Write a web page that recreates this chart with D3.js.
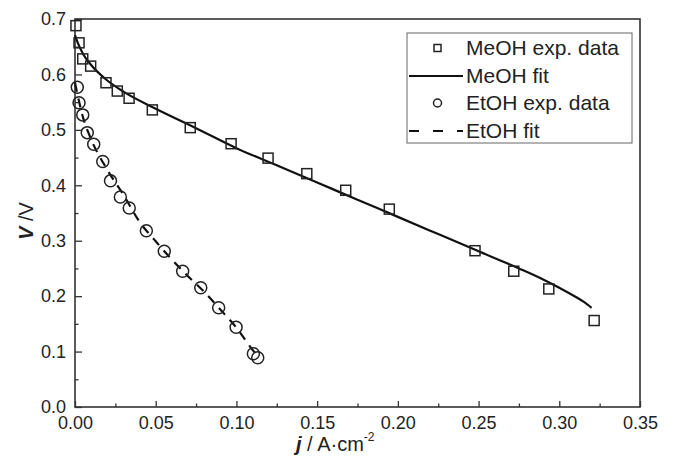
<!DOCTYPE html>
<html>
<head>
<meta charset="utf-8">
<script src="https://cdnjs.cloudflare.com/ajax/libs/d3/7.8.5/d3.min.js"></script>
<style>
  body { margin: 0; background: #fff; }
  svg { font-family: "Liberation Sans", Arial, sans-serif; }
</style>
</head>
<body>
<div id="chart"></div>
<script>
// MeOH experimental data
let meohJ = [0.0006, 0.0025, 0.0048, 0.0097, 0.0192, 0.0262, 0.0335, 0.0479, 0.0714, 0.0967, 0.1196, 0.1436, 0.1677, 0.1947, 0.2478, 0.2718, 0.2935, 0.3216];
let meohV = [0.688, 0.657, 0.628, 0.615, 0.585, 0.570, 0.557, 0.536, 0.504, 0.475, 0.449, 0.421, 0.391, 0.357, 0.282, 0.245, 0.213, 0.156];

// MeOH fit
let meohFitJ = [0, 0.002, 0.005, 0.01, 0.02, 0.03, 0.05, 0.075, 0.1, 0.125, 0.15, 0.175, 0.2, 0.225, 0.25, 0.275, 0.29, 0.30, 0.31, 0.315, 0.32];
let meohFitV = [0.671, 0.655, 0.637, 0.617, 0.589, 0.569, 0.538, 0.503, 0.467, 0.436, 0.405, 0.374, 0.343, 0.312, 0.281, 0.250, 0.230, 0.215, 0.199, 0.190, 0.179];

// EtOH experimental data
let etohJ = [0.0014, 0.0025, 0.0048, 0.0076, 0.0116, 0.0172, 0.0220, 0.0281, 0.0336, 0.0442, 0.0553, 0.0667, 0.0779, 0.0890, 0.0998, 0.1105, 0.1132];
let etohV = [0.577, 0.549, 0.527, 0.495, 0.474, 0.443, 0.408, 0.379, 0.359, 0.318, 0.281, 0.245, 0.215, 0.179, 0.144, 0.096, 0.089];

// EtOH fit
let etohFitJ = [0, 0.005, 0.01, 0.02, 0.03, 0.04, 0.05, 0.06, 0.07, 0.08, 0.09, 0.1, 0.11, 0.113];
let etohFitV = [0.585, 0.522, 0.483, 0.428, 0.383, 0.334, 0.299, 0.266, 0.236, 0.208, 0.176, 0.143, 0.103, 0.092];

let xTicks = [0, 0.05, 0.10, 0.15, 0.20, 0.25, 0.30, 0.35];
let yTicks = [0, 0.1, 0.2, 0.3, 0.4, 0.5, 0.6, 0.7];
let legendLabels = ["MeOH exp. data", "MeOH fit", "EtOH exp. data", "EtOH fit"];

let width = 675, height = 463;
let mLeft = 75, mRight = 640, mTop = 19, mBottom = 407;
let ink = "#222";

let svg = d3.select("#chart").append("svg")
  .attr("width", width)
  .attr("height", height);

let x = d3.scaleLinear().domain([0, 0.35]).range([mLeft, mRight]);
let y = d3.scaleLinear().domain([0, 0.7]).range([mBottom, mTop]);

function zip(a, b) {
  return a.map((d, i) => [d, b[i]]);
}

// minor ticks (inside)
let xMinor = d3.range(0.025, 0.35, 0.05);
let yMinor = d3.range(0.05, 0.7, 0.1);

svg.append("g")
  .attr("transform", "translate(0," + mBottom + ")")
  .call(d3.axisBottom(x).tickValues(xMinor).tickSize(-3.5).tickFormat(""))
  .call(g => g.select(".domain").remove());

svg.append("g")
  .attr("transform", "translate(" + mLeft + ",0)")
  .call(d3.axisLeft(y).tickValues(yMinor).tickSize(-3.5).tickFormat(""))
  .call(g => g.select(".domain").remove());

let xAxis = svg.append("g")
  .attr("transform", "translate(0," + mBottom + ")")
  .call(d3.axisBottom(x).tickValues(xTicks).tickSize(-6).tickPadding(9).tickFormat(d3.format(".2f")));

let yAxis = svg.append("g")
  .attr("transform", "translate(" + mLeft + ",0)")
  .call(d3.axisLeft(y).tickValues(yTicks).tickSize(-7).tickPadding(9).tickFormat(d3.format(".1f")));

[xAxis, yAxis].forEach(g => {
  g.select(".domain").remove();
  g.selectAll("text").attr("font-size", 18).attr("font-family", "Liberation Sans, Arial, sans-serif").attr("fill", ink);
});
svg.selectAll(".tick line").attr("stroke", "#333").attr("stroke-width", 1.3);

// frame
svg.append("rect")
  .attr("x", mLeft).attr("y", mTop)
  .attr("width", mRight - mLeft).attr("height", mBottom - mTop)
  .attr("fill", "none")
  .attr("stroke", "#333")
  .attr("stroke-width", 1.6);

let line = d3.line().x(d => x(d[0])).y(d => y(d[1])).curve(d3.curveMonotoneX);

svg.append("path")
  .datum(zip(meohFitJ, meohFitV))
  .attr("d", line)
  .attr("fill", "none")
  .attr("stroke", "#111")
  .attr("stroke-width", 2.2);

svg.append("path")
  .datum(zip(etohFitJ, etohFitV))
  .attr("d", line)
  .attr("fill", "none")
  .attr("stroke", "#111")
  .attr("stroke-width", 2.2)
  .attr("stroke-dasharray", "9,7");

svg.selectAll("rect.sq").data(zip(meohJ, meohV))
  .enter().append("rect").classed("sq", true)
  .attr("x", d => x(d[0]) - 5)
  .attr("y", d => y(d[1]) - 5)
  .attr("width", 10).attr("height", 10)
  .attr("fill", "none")
  .attr("stroke", ink)
  .attr("stroke-width", 1.5);

svg.selectAll("circle.dot").data(zip(etohJ, etohV))
  .enter().append("circle").classed("dot", true)
  .attr("cx", d => x(d[0]))
  .attr("cy", d => y(d[1]))
  .attr("r", 6)
  .attr("fill", "none")
  .attr("stroke", ink)
  .attr("stroke-width", 1.5);

// legend
let lg = svg.append("g");
lg.append("rect")
  .attr("x", 407).attr("y", 33)
  .attr("width", 225).attr("height", 110)
  .attr("fill", "#fff")
  .attr("stroke", "#666")
  .attr("stroke-width", 1);

let rowY = [48, 76, 103, 131];
legendLabels.forEach((label, i) => {
  lg.append("text")
    .attr("x", 466).attr("y", rowY[i] + 7)
    .attr("font-size", 21)
    .attr("fill", ink)
    .text(label);
});
lg.append("rect")
  .attr("x", 434).attr("y", rowY[0] - 3.5)
  .attr("width", 7).attr("height", 7)
  .attr("fill", "none").attr("stroke", ink).attr("stroke-width", 1.5);
lg.append("line")
  .attr("x1", 409).attr("x2", 463)
  .attr("y1", rowY[1]).attr("y2", rowY[1])
  .attr("stroke", "#111").attr("stroke-width", 2.2);
lg.append("circle")
  .attr("cx", 437.5).attr("cy", rowY[2])
  .attr("r", 4)
  .attr("fill", "none").attr("stroke", ink).attr("stroke-width", 1.5);
lg.append("line")
  .attr("x1", 409).attr("x2", 463)
  .attr("y1", rowY[3]).attr("y2", rowY[3])
  .attr("stroke", "#111").attr("stroke-width", 2.2)
  .attr("stroke-dasharray", "10,14");

// axis titles
let xt = svg.append("text")
  .attr("x", 296).attr("y", 451)
  .attr("font-size", 20)
  .attr("fill", ink);
xt.append("tspan").attr("font-weight", "bold").attr("font-style", "italic").text("j");
xt.append("tspan").text(" / A\u00b7cm");
xt.append("tspan").attr("dy", -10).attr("font-size", 12).text("-2");

let yt = svg.append("text")
  .attr("transform", "translate(33,240) rotate(-90)")
  .attr("font-size", 20)
  .attr("fill", ink);
yt.append("tspan").attr("font-weight", "bold").attr("font-style", "italic").text("V");
yt.append("tspan").text(" /V");
</script>
</body>
</html>
